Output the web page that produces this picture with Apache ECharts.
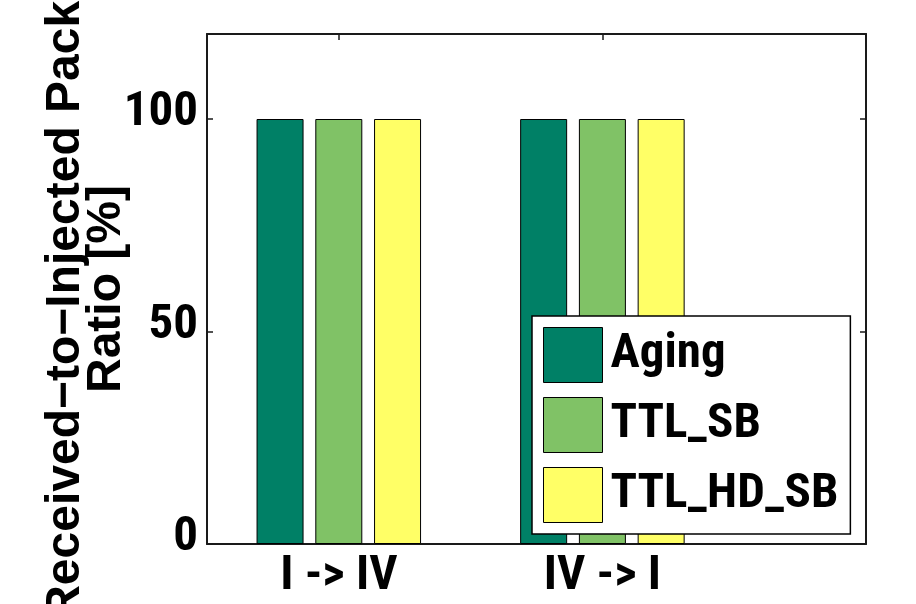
<!DOCTYPE html>
<html>
<head>
<meta charset="utf-8">
<script src="https://cdn.jsdelivr.net/npm/echarts@6/dist/echarts.min.js"></script>
<style>html,body{margin:0;padding:0;background:#fff}#c{width:916px;height:604px}</style>
</head>
<body>
<div id="c"></div>
<script>
// ---- data ----
var categories = ['I -> IV', 'IV -> I'];
var categoryPositions = [1, 2];
var seriesNames = ['Aging', 'TTL_SB', 'TTL_HD_SB'];
var aging = [100, 100];
var ttlSb = [100, 100];
var ttlHdSb = [100, 100];
var yTicks = [0, 50, 100];
var yTitle = 'Received\u2212to\u2212Injected Packet\nRatio [%]';

var colors = ['#008066', '#80C266', '#FFFF66'];
var wide = "'Liberation Sans', Arial, Helvetica, sans-serif";
var frame = '#1a1a1a';

// pick a narrow font if one is installed
var ctx = document.createElement('canvas').getContext('2d');
function w(f) { ctx.font = 'bold 48px ' + f; return ctx.measureText('TTL_HD_SB 100').width; }
var cands = ['Liberation Sans Narrow', 'Arial Narrow', 'Roboto Condensed', 'Noto Sans Condensed', 'Noto Sans SemiCondensed', 'DejaVu Sans Condensed', 'Open Sans Condensed'];
var narrowName = null;
for (var i = 0; i < cands.length; i++) {
  if (w("'" + cands[i] + "', monospace") !== w('monospace') && w("'" + cands[i] + "', serif") !== w('serif')) { narrowName = cands[i]; break; }
}
var narrow = narrowName ? "'" + narrowName + "', " + wide : wide;
// size so that the longest legend entry is about 235px wide, as in the picture
ctx.font = 'bold 48px ' + narrow;
var fs = Math.min(49, Math.round(48 * 235 / ctx.measureText('TTL_HD_SB').width));

function pts(vals) { return categoryPositions.map(function (x, i) { return [x, vals[i]]; }); }
var values = [aging, ttlSb, ttlHdSb];

var chart = echarts.init(document.getElementById('c'), null, { renderer: 'canvas' });
var xCommon = {
  type: 'value', min: 0.5, max: 3,
  axisLine: { show: true, onZero: false, lineStyle: { color: frame, width: 2 } },
  axisTick: { show: true, inside: true, length: 6, customValues: categoryPositions, lineStyle: { color: frame, width: 1.5 } },
  splitLine: { show: false }
};
var yCommon = {
  type: 'value', min: 0, max: 120,
  axisLine: { show: true, onZero: false, lineStyle: { color: frame, width: 2 } },
  axisTick: { show: true, inside: true, length: 6, customValues: yTicks, lineStyle: { color: frame, width: 1.5 } },
  splitLine: { show: false }
};
chart.setOption({
  animation: false,
  backgroundColor: '#fff',
  grid: { left: 207, right: 50, top: 34, bottom: 60, outerBoundsMode: 'none', containLabel: false },
  xAxis: [
    Object.assign({}, xCommon, {
      position: 'bottom',
      axisLabel: {
        show: true, customValues: categoryPositions, margin: 8,
        formatter: function (v) { var i = categoryPositions.indexOf(v); return i >= 0 ? categories[i] : ''; },
        color: '#000', fontSize: fs, fontWeight: 'bold', fontFamily: narrow
      }
    }),
    Object.assign({}, xCommon, { position: 'top', axisLabel: { show: false } })
  ],
  yAxis: [
    Object.assign({}, yCommon, {
      position: 'left',
      name: yTitle, nameLocation: 'middle', nameGap: 80, nameRotate: 90, nameMoveOverlap: false,
      nameTextStyle: { color: '#000', fontSize: 48, fontWeight: 'bold', fontFamily: wide, lineHeight: 41, align: 'center' },
      axisLabel: {
        show: true, customValues: yTicks, margin: 9,
        color: '#000', fontSize: fs, fontWeight: 'bold', fontFamily: narrow,
        verticalAlign: 'bottom', lineHeight: 12
      }
    }),
    Object.assign({}, yCommon, { position: 'right', axisLabel: { show: false } })
  ],
  legend: {
    orient: 'vertical', left: 532, top: 316,
    padding: [11, 12, 11, 11],
    itemGap: 14, itemWidth: 59, itemHeight: 55,
    backgroundColor: '#fff', borderColor: '#000', borderWidth: 1.5,
    icon: 'rect',
    itemStyle: { borderColor: '#000', borderWidth: 1 },
    textStyle: { color: '#000', fontSize: fs, fontWeight: 'bold', fontFamily: narrow, lineHeight: 55, padding: [0, 0, 0, 3] },
    data: seriesNames
  },
  series: seriesNames.map(function (n, k) {
    return {
      name: n, type: 'bar', xAxisIndex: 0, yAxisIndex: 0,
      data: pts(values[k]),
      barWidth: 47, barGap: '25%',
      itemStyle: { color: colors[k], borderColor: '#000', borderWidth: 1 }
    };
  })
});
</script>
</body>
</html>
